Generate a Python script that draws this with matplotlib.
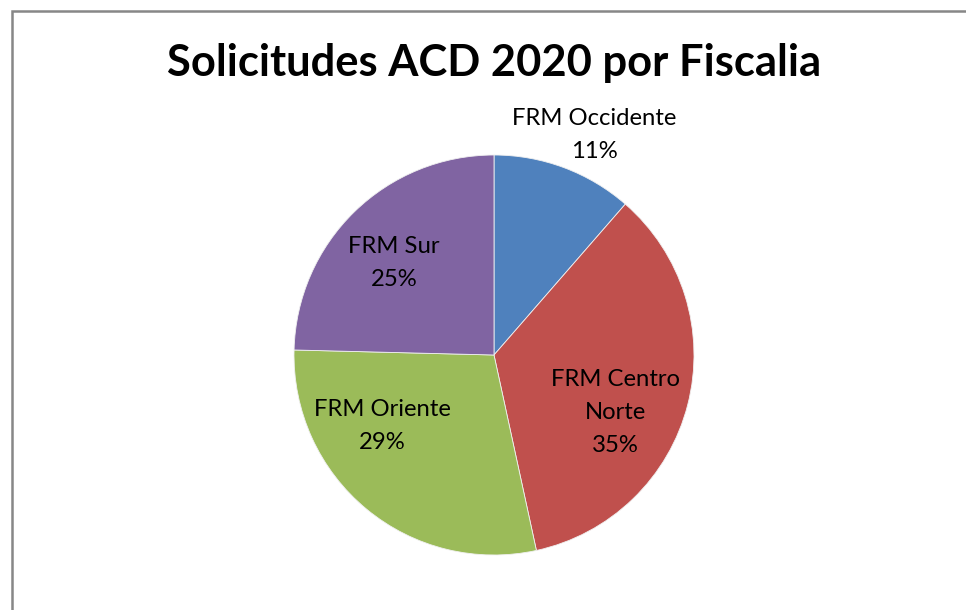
import matplotlib
matplotlib.use("Agg")
import numpy as np
from matplotlib import pyplot as plt
from matplotlib.patches import Rectangle

# data (percent of requests)
fiscalias = ["FRM Occidente", "FRM Centro\nNorte", "FRM Oriente", "FRM Sur"]
porcentajes = [11.4, 35.2, 28.8, 24.6]
colores = ["#4F81BD", "#C0504D", "#9BBB59", "#8064A2"]

# label placement (radius, angle offset in degrees from slice middle)
label_radius = [1.21, 0.67, 0.66, 0.68]
label_shift = [-4, -11, -18, 3]

plt.rcParams["font.family"] = ["Lato", "DejaVu Sans"]

fig = plt.figure(figsize=(9.66, 6.1), dpi=100)
W, H = 966, 610

# chart border (only top and left edges are visible in the frame)
fig.patches.append(Rectangle((12 / W, -0.1), 1.2, (610 - 11) / H + 0.1,
                             transform=fig.transFigure, fill=False,
                             edgecolor="#878787", linewidth=1.8))

cx, cy, half = 494, 355, 250
ax = fig.add_axes([(cx - half) / W, (H - cy - half) / H, 2 * half / W, 2 * half / H])
ax.set_xlim(-1.25, 1.25)
ax.set_ylim(-1.25, 1.25)
ax.set_aspect("equal")
ax.axis("off")

wedges, _ = ax.pie(porcentajes, colors=colores, startangle=90, counterclock=False,
                   radius=1.0, wedgeprops=dict(edgecolor="#f0f0f0", linewidth=0.6))

for w, name, p, r, s in zip(wedges, fiscalias, porcentajes, label_radius, label_shift):
    mid = np.deg2rad((w.theta1 + w.theta2) / 2 + s)
    ax.text(r * np.cos(mid), r * np.sin(mid), "{}\n{:.0f}%".format(name, p),
            ha="center", va="center", fontsize=17.2, color="black", linespacing=1.72)

fig.text(494 / W, 1 - 63 / H, "Solicitudes ACD 2020 por Fiscalia",
         ha="center", va="center", fontsize=31.3, fontweight="bold")

plt.savefig("out.png", dpi=100, facecolor="white")
plt.close()
